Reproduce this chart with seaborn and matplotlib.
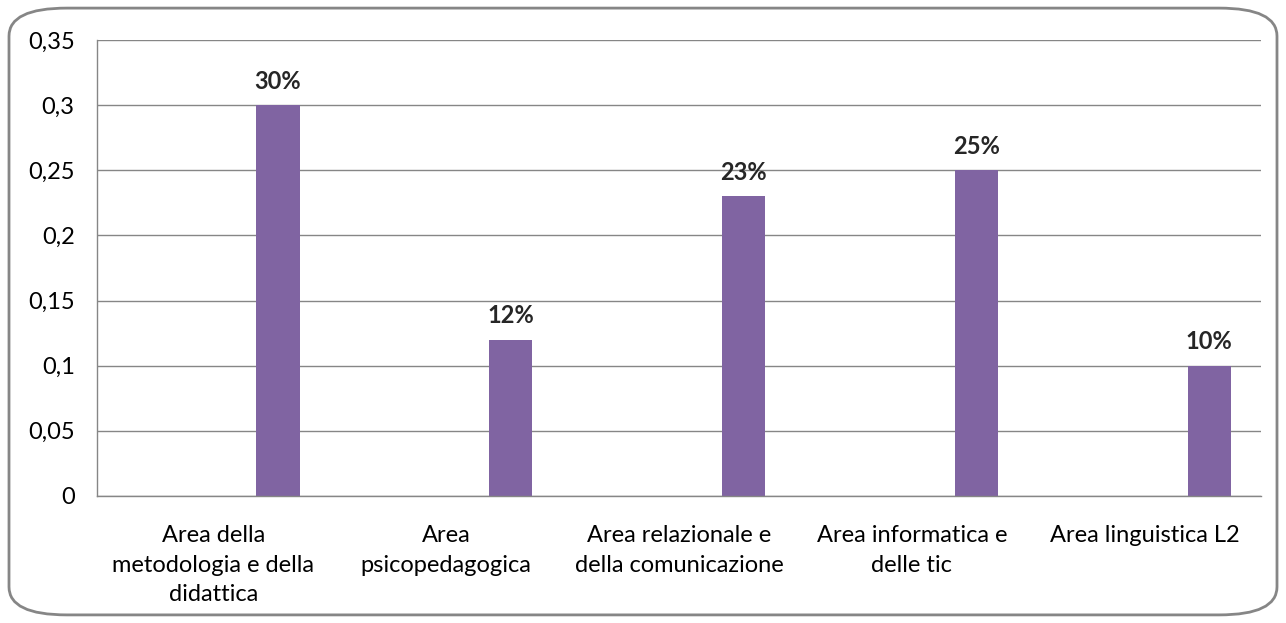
import numpy as np
import pandas as pd
import seaborn as sns
import matplotlib.pyplot as plt
from matplotlib.patches import FancyBboxPatch
from matplotlib.ticker import FuncFormatter, FixedLocator

# data
categories = ["Area della\nmetodologia e della\ndidattica",
              "Area\npsicopedagogica",
              "Area relazionale e\ndella comunicazione",
              "Area informatica e\ndelle tic",
              "Area linguistica L2"]
values = [0.30, 0.12, 0.23, 0.25, 0.10]
# excel sheet had 4 series, only the last one is filled
series_names = ["Serie1", "Serie2", "Serie3", "Serie4"]

df = pd.DataFrame({"area": categories, "valore": values, "serie": "Serie4"})

sns.set_style("white")
plt.rcParams["font.family"] = ["Lato", "DejaVu Sans"]
fs = 17

fig = plt.figure(figsize=(12.86, 6.23), dpi=100)
ax = fig.add_axes([0.0754, 0.2039, 0.9052, 0.7319])

sns.barplot(data=df, x="area", y="valore", hue="serie", hue_order=series_names,
            order=categories, palette=["#8064A2"] * 4, width=0.74, dodge=True,
            legend=False, errorbar=None, linewidth=0, saturation=1, ax=ax)

ax.set_ylim(0, 0.35)
ax.set_xlim(-0.5, len(categories) - 0.5)
ax.set_yticks(np.arange(0, 0.351, 0.05))
ax.yaxis.set_major_formatter(FuncFormatter(lambda v, p: f"{v:.2f}".rstrip("0").rstrip(".").replace(".", ",") if v else "0"))
ax.grid(axis="y", color="#868686", linewidth=1)
ax.set_axisbelow(True)
ax.set_xlabel("")
ax.set_ylabel("")

for s in ["top", "right"]:
    ax.spines[s].set_visible(False)
for s in ["left", "bottom"]:
    ax.spines[s].set_color("#868686")
    ax.spines[s].set_linewidth(1)

ax.tick_params(axis="y", length=9, color="#868686", width=1, pad=7, labelsize=fs, labelcolor="black")
ax.tick_params(axis="x", which="major", length=0, pad=21, labelsize=fs, labelcolor="black")
for lab in ax.get_xticklabels():
    lab.set_linespacing(1.5)
ax.xaxis.set_minor_locator(FixedLocator(np.arange(-0.5, len(categories), 1)))
ax.tick_params(axis="x", which="minor", length=8, color="#868686", width=1)

for cont in ax.containers:
    if len(cont) and any(b.get_height() > 0 for b in cont):
        ax.bar_label(cont, labels=[f"{v:.0%}" for v in values], padding=9,
                     fontsize=fs, fontweight="bold")

# rounded chart border like excel
fig.patches.append(FancyBboxPatch((0.007, 0.013), 0.986, 0.974, boxstyle="round,pad=0,rounding_size=0.045",
                                  transform=fig.transFigure, fill=False, edgecolor="#868686", linewidth=2))

fig.savefig("out.png", dpi=100)
